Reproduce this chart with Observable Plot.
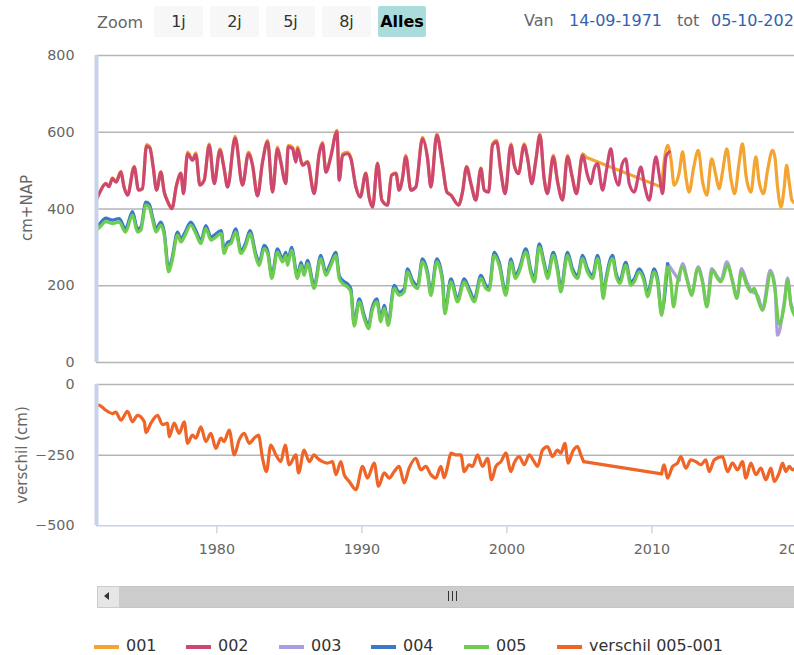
<!DOCTYPE html>
<html><head><meta charset="utf-8">
<script src="https://cdn.jsdelivr.net/npm/d3@7"></script>
<script src="https://cdn.jsdelivr.net/npm/@observablehq/plot@0.6"></script>
<style>
html,body{margin:0;padding:0;overflow:hidden;background:#fff;width:794px;height:655px;}
body{position:relative;font-family:"DejaVu Sans",sans-serif;}
.abs{position:absolute;white-space:nowrap;}
.btn{position:absolute;top:6px;height:31px;line-height:31px;text-align:center;background:#f7f7f7;border-radius:2px;color:#333;font-size:16px;}
.ttl{position:absolute;font-size:15px;color:#666;transform:translate(-50%,-50%) rotate(-90deg);white-space:nowrap;}
.lg{position:absolute;top:645px;height:4px;width:25px;}
.lt{position:absolute;top:636px;font-size:16px;color:#333;line-height:20px;}
#up,#low{position:absolute;left:0;width:830px;}
#up{top:45px;} #low{top:374px;}
#up svg,#low svg{max-width:none !important;}
svg [aria-label^="x-axis"] line, svg [aria-label^="x-axis"] path{stroke:#ccd6eb;stroke-width:1.5px;}
</style></head>
<body>
<div class="abs" style="left:97px;top:11px;font-size:16px;color:#666;line-height:24px;">Zoom</div>
<div class="btn" style="left:154px;width:49px;">1j</div>
<div class="btn" style="left:210px;width:49px;">2j</div>
<div class="btn" style="left:266px;width:49px;">5j</div>
<div class="btn" style="left:322px;width:49px;">8j</div>
<div class="btn" style="left:378px;width:48px;background:#abdcdc;color:#000;font-weight:bold;">Alles</div>
<div class="abs" style="left:524px;top:9px;font-size:16px;color:#666;line-height:24px;">Van</div>
<div class="abs" style="left:569px;top:9px;font-size:16px;color:#3560b0;line-height:24px;">14-09-1971</div>
<div class="abs" style="left:677px;top:9px;font-size:16px;color:#666;line-height:24px;">tot</div>
<div class="abs" style="left:711px;top:9px;font-size:16px;color:#3560b0;line-height:24px;">05-10-2020</div>
<div id="up"></div>
<div id="low"></div>
<div class="ttl" style="left:27px;top:208px;">cm+NAP</div>
<div class="ttl" style="left:22px;top:455px;">verschil (cm)</div>
<div class="abs" style="left:97px;top:586px;width:720px;height:20px;background:#cccccc;border:1px solid #c4c4c4;"></div>
<div class="abs" style="left:97px;top:586px;width:21px;height:20px;background:#e6e6e6;border:1px solid #cccccc;"></div>
<div class="abs" style="left:104px;top:592px;width:0;height:0;border-top:4px solid transparent;border-bottom:4px solid transparent;border-right:5px solid #333;"></div>
<div class="abs" style="left:448px;top:591px;width:1px;height:10px;background:#333;"></div>
<div class="abs" style="left:452px;top:591px;width:1px;height:10px;background:#333;"></div>
<div class="abs" style="left:456px;top:591px;width:1px;height:10px;background:#333;"></div>
<div id="legend"></div>
<script>
// ---- series names and colours ----
const names = ["001", "002", "003", "004", "005", "verschil 005-001"];
const colors = ["#f3a431", "#cc4873", "#ab9de2", "#3a78c8", "#6ecc50", "#ef6427"];

// ---- 002 (and 001 up to 2005) dates, fractional years ----
const tP1 = [1971.70,1971.95,1972.34,1972.55,1972.80,1973.05,1973.38,1973.60,1973.84,1974.30,
1974.60,1974.87,1975.15,1975.38,1975.61,1975.84,1976.14,1976.37,1976.60,1976.90,
1977.22,1977.52,1977.70,1977.98,1978.32,1978.55,1978.83,1979.13,1979.47,1979.82,
1980.21,1980.50,1980.74,1981.26,1981.77,1982.18,1982.46,1982.80,1983.15,1983.50,
1983.84,1984.18,1984.41,1984.76,1984.92,1985.22,1985.45,1985.56,1985.91,1986.25,
1986.71,1987.06,1987.29,1987.52,1987.86,1988.28,1988.44,1988.67,1989.01,1989.24,
1989.59,1989.89,1990.27,1990.50,1990.74,1991.08,1991.38,1991.77,1992.05,1992.35,
1992.57,1992.80,1993.03,1993.38,1993.72,1994.18,1994.53,1994.76,1995.17,1995.56,
1995.86,1996.14,1996.67,1996.94,1997.22,1997.52,1997.86,1998.21,1998.44,1998.74,
1999.01,1999.29,1999.59,1999.88,2000.28,2000.51,2000.80,2001.19,2001.43,2001.72,
2002.00,2002.28,2002.57,2002.80,2003.20,2003.50,2003.84,2004.18,2004.48,2004.80,
2005.22];
const v002a = [425,445,466,458,479,470,496,457,436,509,
449,453,564,559,509,449,496,444,420,401,
462,492,440,544,527,542,462,475,566,466,
553,505,457,585,462,544,514,434,522,575,
444,557,522,466,562,557,522,557,514,522,
440,544,570,496,536,601,475,540,544,531,
457,431,492,431,405,518,423,410,488,492,
449,479,536,449,457,583,531,457,592,514,
444,436,410,444,509,466,423,505,449,444,
566,575,496,440,566,514,492,566,531,466,
527,592,479,440,536,470,423,536,488,440,
540];
const tP2 = [2005.56,2005.79,2006.02,2006.25,2006.60,2006.87,2007.17,2007.40,2007.70,2007.93,
2008.20,2008.44,2008.78,2009.24,2009.52,2009.82,2010.28,2010.51,2010.74,2010.97,2011.20];
const v002b = [488,466,505,518,449,501,557,496,462,514,
531,466,444,509,457,423,536,488,440,536,549];

// ---- 001 ----
const v001a = [426,446,467,459,481,471,498,458,437,511,
450,454,568,562,510,450,497,445,421,402,
463,494,441,548,529,546,463,476,570,467,
557,506,458,589,463,548,515,435,524,579,
445,561,524,467,566,561,524,561,515,524,
441,548,574,497,539,605,476,544,548,534,
458,432,494,432,406,520,424,411,489,494,
450,481,540,450,458,587,534,458,596,515,
445,437,411,445,511,467,424,507,450,445,
570,579,497,441,570,515,494,570,534,467,
529,596,481,441,540,471,424,540,489,441,
544];
const t001b = [2005.45,2010.67,2011.08,2011.31,2011.54,2011.89,2012.12,2012.35,2012.57,2012.87,
2013.20,2013.50,2013.79,2014.12,2014.41,2014.64,2014.87,2015.17,2015.45,2015.71,
2016.02,2016.25,2016.49,2016.83,2017.17,2017.40,2017.70,2017.98,2018.32,2018.48,
2018.67,2018.90,2019.13,2019.29,2019.47,2019.66,2019.90];
const v001b = [535,457,566,531,462,496,549,483,444,505,
553,470,436,531,488,453,496,557,479,440,
522,570,488,444,536,470,440,501,553,536,
457,405,457,514,470,423,415];

// ---- 004 / 005 dates ----
const tG = [1971.70,1971.93,1972.34,1972.80,1973.26,1973.70,1974.18,1974.53,1974.76,1975.10,
1975.33,1975.60,1975.80,1976.14,1976.37,1976.67,1976.90,1977.29,1977.52,1977.75,
1978.20,1978.55,1978.90,1979.24,1979.59,1979.80,1980.30,1980.50,1980.74,1980.97,
1981.30,1981.66,1982.00,1982.28,1982.69,1982.92,1983.26,1983.50,1983.79,1984.18,
1984.53,1984.76,1984.87,1985.15,1985.56,1985.80,1986.02,1986.25,1986.71,1987.17,
1987.52,1987.86,1988.20,1988.44,1988.67,1989.01,1989.24,1989.47,1989.82,1990.16,
1990.46,1990.69,1991.03,1991.31,1991.54,1991.82,1992.23,1992.57,1992.92,1993.15,
1993.49,1993.84,1994.18,1994.53,1994.76,1995.17,1995.56,1995.72,1996.14,1996.60,
1997.06,1997.40,1997.75,1998.21,1998.55,1998.78,1999.13,1999.47,1999.93,2000.28,
2000.58,2000.85,2001.31,2001.66,2001.89,2002.23,2002.57,2002.80,2003.20,2003.50,
2003.72,2004.18,2004.53,2004.87,2005.22,2005.56,2005.91,2006.25,2006.48,2006.64,
2006.83,2007.29,2007.52,2007.79,2008.20,2008.55,2008.78,2009.13,2009.47,2009.70,
2010.16,2010.39,2010.67,2011.08,
2011.31,2011.49,2011.77,2012.12,2012.46,2012.74,
2013.15,2013.49,2013.79,2014.18,2014.53,2014.76,2015.22,2015.56,2015.86,2016.18,
2016.55,2016.83,2017.06,2017.29,2017.63,2018.21,2018.48,2018.78,2019.13,2019.36,
2019.59,2019.90];
const v005 = [345,353,367,362,366,340,384,340,345,410,
405,366,340,358,332,236,262,332,314,327,
358,336,310,349,319,323,336,284,305,310,
340,284,305,336,275,253,297,284,219,288,
262,279,253,292,219,253,227,258,193,271,
227,253,279,219,206,197,184,95,158,115,
88,132,158,106,141,97,193,175,184,236,
206,193,262,227,175,262,210,127,210,158,
210,184,158,219,193,188,279,253,175,262,
219,236,288,232,210,301,253,219,279,236,
184,279,236,219,271,236,219,271,227,167,
210,271,227,206,253,201,210,236,210,171,
236,210,123,249,
210,145,210,249,210,175,
245,210,145,240,219,210,253,210,167,236,
201,184,193,167,136,232,193,100,149,215,
149,120];
const v004 = [353,362,376,371,375,349,393,348,353,418,
413,374,348,366,340,244,270,340,322,335,
366,344,318,357,327,331,344,292,313,318,
348,292,313,344,283,261,305,292,227,296,
270,287,261,300,227,261,235,266,201,279,
235,261,287,227,214,205,192,103,166,123,
96,140,166,114,149,105,201,183,192,244,
214,201,270,235,183,270,218,135,218,166,
218,192,166,227,201,196,287,261,183,270,
227,244,296,240,218,309,261,227,287,244,
192,287,244,227,279,244,227,279,235,175,
218,279,235,214,261,209,218,244,218,179,
244,218,131,257];

// ---- 003 ----
const t003 = [2011.08,2011.88,2012.12,2012.46,2012.74,2013.20,2013.49,2013.79,2014.12,2014.53,
2014.76,2015.17,2015.56,2015.86,2016.18,2016.55,2016.83,2017.29,2017.63,2018.16,
2018.48,2018.67,2019.13,2019.36,2019.59,2019.90];
const v003 = [258,214,258,214,180,249,214,149,245,223,
214,262,214,171,245,210,188,175,140,240,
201,71,158,220,154,130];

// ---- verschil 005-001 ----
const tV = [1971.70,1971.93,1972.34,1972.80,1973.03,1973.38,1973.84,1974.18,1974.53,1975.00,
1975.10,1975.45,1975.91,1976.25,1976.60,1976.71,1977.06,1977.40,1977.75,1977.98,
1978.32,1978.55,1978.90,1979.24,1979.59,1979.93,1980.28,1980.50,1980.85,1981.20,
1981.54,1981.89,1982.23,1982.57,1982.87,1983.15,1983.42,1983.72,1984.07,1984.41,
1984.71,1984.99,1985.45,1985.63,1986.02,1986.37,1986.71,1986.94,1987.29,1987.63,
1987.98,1988.21,1988.55,1988.78,1989.13,1989.59,1990.05,1990.39,1990.85,1991.15,
1991.54,1991.89,1992.23,1992.57,1992.92,1993.26,1993.72,1994.07,1994.41,1994.76,
1995.10,1995.45,1995.68,1995.91,1996.14,1996.48,1996.83,1997.06,1997.40,1997.63,
1997.98,1998.32,1998.67,1998.94,1999.24,1999.59,1999.93,2000.28,2000.50,2000.85,
2001.20,2001.54,2001.88,2002.11,2002.46,2002.80,2003.15,2003.49,2003.72,2004.00,
2004.23,2004.53,2004.87,2005.10,2005.29,2010.67,2010.85,2011.08,2011.43,2011.77,
2012.00,2012.34,2012.69,2013.03,2013.38,2013.72,2013.95,2014.30,2014.87,2015.22,
2015.56,2015.91,2016.25,2016.48,2016.83,2017.17,2017.52,2017.86,2018.21,2018.44,
2018.78,2019.01,2019.24,2019.47,2019.70,2019.90];
const vV = [-72,-74,-91,-103,-98,-126,-95,-132,-109,-132,
-170,-137,-109,-142,-137,-185,-137,-173,-132,-208,
-179,-190,-150,-202,-173,-226,-190,-202,-161,-249,
-196,-173,-208,-190,-179,-261,-308,-214,-249,-273,
-214,-284,-249,-313,-232,-273,-249,-261,-273,-278,
-273,-319,-273,-319,-343,-372,-290,-331,-278,-360,
-313,-331,-308,-290,-348,-296,-261,-302,-290,-319,
-331,-290,-330,-290,-243,-249,-249,-308,-284,-290,
-249,-290,-261,-337,-290,-273,-243,-308,-278,-255,
-284,-249,-273,-290,-232,-220,-255,-232,-243,-208,
-278,-238,-220,-249,-273,-316,-284,-331,-290,-278,
-255,-296,-267,-273,-284,-267,-308,-267,-255,-308,
-278,-302,-273,-331,-278,-319,-296,-337,-296,-343,
-313,-278,-308,-290,-302,-295];

// ---- axis ticks ----
const yTicksUp = [0, 200, 400, 600, 800];
const yTicksLow = [-500, -250, 0];
const xTicks = [1980, 1990, 2000, 2010, 2020];
const xDomain = [1971.70, 2020.76];

// ---- build rows; runs split at data gaps (joined by straight segments) ----
const rows = (t, v) => {
  const n = Math.min(t.length, v.length);
  const out = [];
  let run = 0;
  for (let i = 0; i < n; i++) {
    if (i > 0 && t[i] - t[i - 1] > 0.7) run++;
    out.push({t: t[i], v: v[i], run});
  }
  return out;
};
const gaps = (d) => {
  const out = [];
  for (let i = 1; i < d.length; i++) {
    if (d[i].run !== d[i - 1].run) {
      out.push({t: d[i - 1].t, v: d[i - 1].v, g: i});
      out.push({t: d[i].t, v: d[i].v, g: i});
    }
  }
  return out;
};
const d001 = rows(tP1.concat(t001b), v001a.concat(v001b));
const d002 = rows(tP1.concat(tP2), v002a.concat(v002b));
const d003 = rows(t003, v003);
const d004 = rows(tG, v004);
const d005 = rows(tG, v005);
const dV = rows(tV, vV);

const W = 830, ML = 96, MR = W - 807.4;
const baseStyle = {fontFamily: "DejaVu Sans, sans-serif", fontSize: "14.3px", color: "#666", background: "transparent", overflow: "visible", maxWidth: "none"};
const grid = "#b5b5b5";
const axisBlue = "#c8d3ea";
const ln = (d, c) => [
  Plot.line(gaps(d), {x: "t", y: "v", z: "g", stroke: c, strokeWidth: 3.2}),
  Plot.line(d, {x: "t", y: "v", z: "run", stroke: c, strokeWidth: 3.2, curve: "monotone-x"})
];

const up = Plot.plot({
  width: W, height: 325,
  marginLeft: ML, marginRight: MR, marginTop: 10, marginBottom: 8,
  style: baseStyle,
  x: {domain: xDomain, axis: null},
  y: {domain: [0, 800], ticks: yTicksUp, tickSize: 0, tickPadding: 22, label: null},
  marks: [
    Plot.ruleY(yTicksUp, {stroke: grid, strokeWidth: 1.5}),
    ...ln(d001, colors[0]),
    ...ln(d002, colors[1]),
    ...ln(d003, colors[2]),
    ...ln(d004, colors[3]),
    ...ln(d005, colors[4]),
    Plot.ruleX([xDomain[0]], {stroke: axisBlue, strokeWidth: 4})
  ]
});
up.style.maxWidth = "none";
document.getElementById("up").appendChild(up);

const low = Plot.plot({
  width: W, height: 200,
  marginLeft: ML, marginRight: MR, marginTop: 10, marginBottom: 48.7,
  style: baseStyle,
  x: {domain: xDomain, ticks: xTicks, tickFormat: d => String(d), tickSize: 8, tickPadding: 10, label: null},
  y: {domain: [-500, 0], ticks: yTicksLow, tickSize: 0, tickPadding: 22, label: null},
  marks: [
    Plot.ruleY([-250, 0], {stroke: grid, strokeWidth: 1.5}),
    Plot.ruleY([-500], {stroke: axisBlue, strokeWidth: 1.5}),
    ...ln(dV, colors[5]),
    Plot.ruleX([xDomain[0]], {stroke: axisBlue, strokeWidth: 4})
  ]
});
low.style.maxWidth = "none";
document.getElementById("low").appendChild(low);

// ---- legend ----
const lgX = [94, 186, 279, 371, 464, 557];
const lg = document.getElementById("legend");
names.forEach((n, i) => {
  const s = document.createElement("div");
  s.className = "lg"; s.style.left = lgX[i] + "px"; s.style.background = colors[i];
  lg.appendChild(s);
  const t = document.createElement("div");
  t.className = "lt"; t.style.left = (lgX[i] + 32) + "px"; t.textContent = n;
  lg.appendChild(t);
});
</script>
</body></html>
